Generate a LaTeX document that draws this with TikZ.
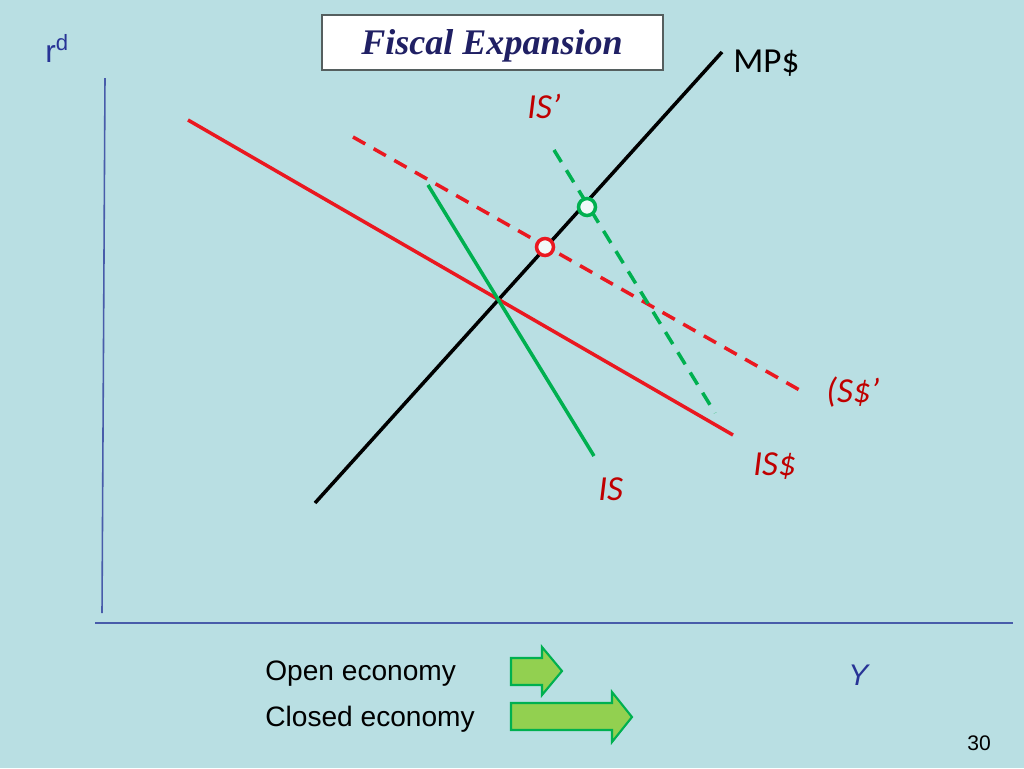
\documentclass[tikz,border=0pt]{standalone}
\usepackage{fontspec}
\setmainfont{Liberation Sans}
\newfontfamily\labelfont{Carlito}
\newfontfamily\titlefont{Liberation Serif}
\usetikzlibrary{calc}

\definecolor{slidebg}{RGB}{185,223,227}
\definecolor{axisblue}{RGB}{72,92,170}
\definecolor{textblue}{RGB}{40,52,150}
\definecolor{curvered}{RGB}{234,24,32}
\definecolor{labelred}{RGB}{192,0,0}
\definecolor{curvegreen}{RGB}{0,176,80}
\definecolor{arrowgreen}{RGB}{146,208,80}
\definecolor{titlenavy}{RGB}{32,32,100}
\definecolor{boxgray}{RGB}{85,95,95}

\tikzset{
  curve/.style={line width=2pt},
  shifted/.style={curve,dash pattern=on 8pt off 5.5pt},
  eqpoint/.style={line width=2pt,fill=white!80!slidebg},
  curvelabel/.style={anchor=base west,inner sep=0pt,font=\labelfont\itshape\fontsize{20}{24}\selectfont,text=labelred},
  econlabel/.style={anchor=base west,inner sep=0pt,font=\fontsize{16}{19}\selectfont},
  blockarrow/.style={draw=curvegreen,fill=arrowgreen,line width=1.2pt,line join=miter}
}

\begin{document}
\begin{tikzpicture}[x=0.02cm,y=-0.02cm]
          \fill[slidebg] (0,0) rectangle (1024,768);
          % axes
          \draw[axisblue,line width=0.9pt] (105,78)--(102,613);
          \draw[axisblue,line width=0.9pt] (95,623)--(1013,623);
          \node[anchor=base west,inner sep=0pt,text=textblue,font=\fontsize{18}{20}\selectfont] (rlab) at (45,62) {r\textsuperscript{d}};
          \node[anchor=base west,inner sep=0pt,text=textblue,font=\itshape\fontsize{17}{20}\selectfont] (ylab) at (848,685) {Y};
          % title
          \draw[boxgray,fill=white,line width=0.8pt] (322,15) rectangle (663,70);
          \node[anchor=base,inner sep=0pt,font=\titlefont\bfseries\itshape\fontsize{20.5}{24}\selectfont,text=titlenavy] (title) at (492,54) {Fiscal Expansion};
          % curves
          \coordinate (mpA) at (315,503); \coordinate (mpB) at (722,52);
          \coordinate (isA) at (188,120); \coordinate (isB) at (733,435);
          \coordinate (isdA) at (353,137); \coordinate (isdB) at (803,392);
          \coordinate (gA) at (428,185); \coordinate (gB) at (594,456);
          \coordinate (gdA) at (554,150); \coordinate (gdB) at (715,413);
          \draw[curve,black] (mpA)--(mpB);
          \draw[curve,curvered] (isA)--(isB);
          \draw[shifted,curvered] (isdA)--(isdB);
          \draw[curve,curvegreen] (gA)--(gB);
          \draw[shifted,curvegreen] (gdA)--(gdB);
          \draw[eqpoint,draw=curvered] (545,247) circle (8.5);
          \draw[eqpoint,draw=curvegreen] (587,207) circle (8.5);
          % labels
          \node[anchor=base west,inner sep=0pt,font=\labelfont\fontsize{20}{24}\selectfont] (mplab) at (733,72) {MP\$};
          \node[curvelabel] (isplab) at (527,118) {IS’};
          \node[curvelabel] (isslab) at (826,402) {(S\$’};
          \node[curvelabel] (isdlab) at (753,475) {IS\$};
          \node[curvelabel] (islab) at (598,500) {IS};
          % legend
          \node[econlabel] (open) at (265,680) {Open economy};
          \node[econlabel] (closed) at (265,726) {Closed economy};
          \draw[blockarrow] (511,658)--(542,658)--(542,647)--(562,671)--(542,695)--(542,685)--(511,685)--cycle;
          \draw[blockarrow] (511,703)--(612,703)--(612,692)--(632,717)--(612,742)--(612,730)--(511,730)--cycle;
          \node[anchor=base west,inner sep=0pt,font=\fontsize{12}{14}\selectfont] (pagenum) at (967,750) {30};
        \end{tikzpicture}
\end{document}
